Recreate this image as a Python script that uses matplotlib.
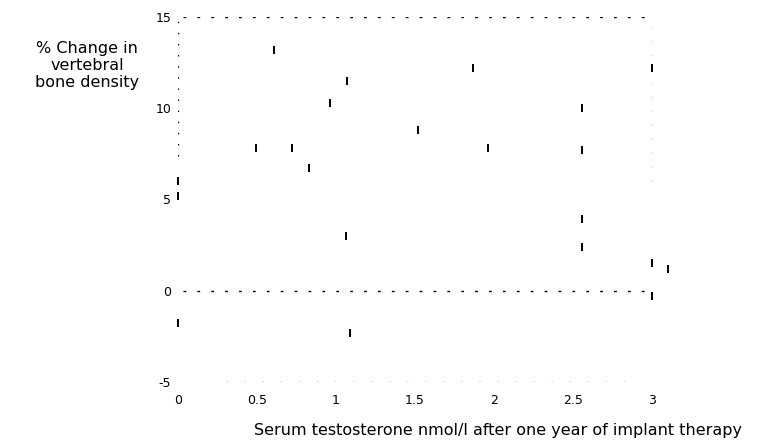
import numpy as np
import matplotlib.pyplot as plt

# serum testosterone (nmol/l) vs % change in vertebral bone density
testosterone = [0.61, 1.07, 0.96, 0.49, 0.72, 0.83, 1.52, 1.87, 3.00, 2.56,
                1.96, 2.56, 2.56, 2.56, 1.06, 0.00, 0.00, 0.00, 1.09, 3.00,
                3.00, 3.10]
bone_change = [13.2, 11.5, 10.3, 7.8, 7.8, 6.7, 8.8, 12.2, 12.2, 10.0,
               7.8, 7.7, 3.9, 2.4, 3.0, 5.2, 6.0, -1.8, -2.3, 1.5,
               -0.3, 1.2]

xticks = [0, 0.5, 1, 1.5, 2, 2.5, 3]
xticklabels = ["0", "0.5", "1", "1.5", "2", "2.5", "3"]
yticks = [15, 10, 5, 0, -5]

fig = plt.figure(figsize=(7.58, 4.42), dpi=100)
ax = fig.add_axes([0.235, 0.136, 0.625, 0.826])
ax.set_xlim(0, 3)
ax.set_ylim(-5, 15)

# scanned, broken-up reference lines
dot = dict(color="black", lw=1.0, linestyle=(0, (2, 8)))
ax.axhline(15, xmin=0.01, xmax=0.99, **dot)
ax.axhline(0, xmin=0.01, xmax=1.0, **dot)
ax.axhline(-5, xmin=0.1, xmax=0.97, color="black", lw=1.0, linestyle=(0, (1, 12)))
ax.axvline(0, ymin=0.62, ymax=1.0, color="black", lw=1.0, linestyle=(0, (1, 7)))
ax.axvline(3, ymin=0.55, ymax=1.0, color="black", lw=1.0, linestyle=(0, (1, 9)))

ax.plot(testosterone, bone_change, linestyle="none", marker="|",
        markersize=6, mew=1.4, color="black", clip_on=False)

for s in ax.spines.values():
    s.set_visible(False)
ax.set_xticks(xticks)
ax.set_xticklabels(xticklabels)
ax.set_yticks(yticks)
ax.set_yticklabels([str(v) for v in yticks])
ax.tick_params(length=0, labelsize=9, pad=9)
ax.tick_params(axis="y", pad=5)

ax.set_xlabel("Serum testosterone nmol/l after one year of implant therapy",
              fontsize=11.5, labelpad=11, x=0.675)
fig.text(0.115, 0.852, "% Change in\nvertebral\nbone density", fontsize=11.5,
         ha="center", va="center", linespacing=1.2)

fig.savefig("out.png", dpi=100)
